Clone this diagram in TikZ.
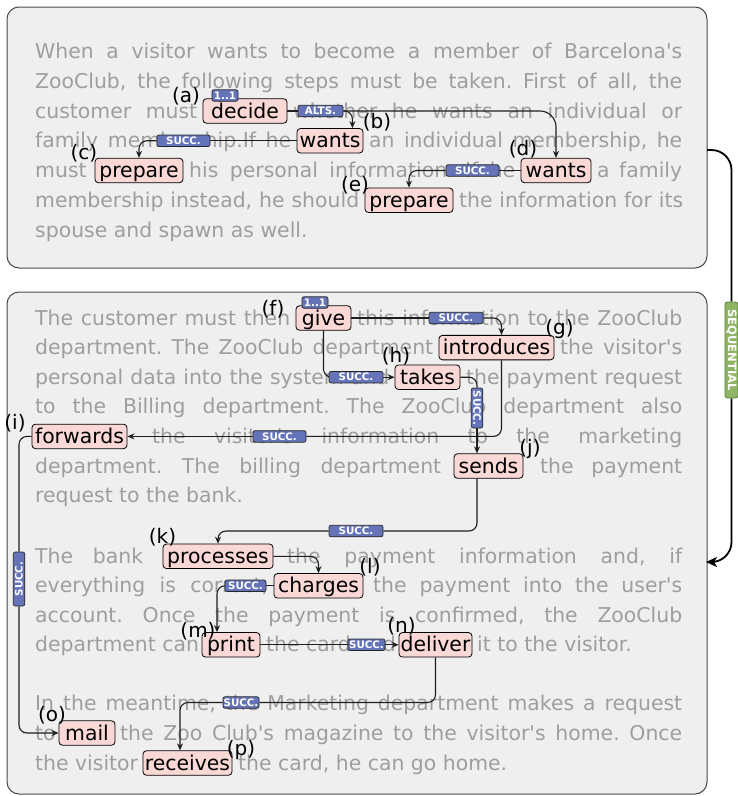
\documentclass[tikz,border=0pt]{standalone}
\usepackage{fontspec}
\setmainfont{DejaVu Sans}
\newfontfamily\dvs{DejaVu Sans}
\usetikzlibrary{arrows.meta,calc}
\pgfdeclarelayer{bgl}
\pgfdeclarelayer{edges}
\pgfsetlayers{bgl,edges,main}
\definecolor{panelfill}{HTML}{EFEFEF}
\definecolor{panelline}{HTML}{4A4A4A}
\definecolor{greytext}{HTML}{9E9E9E}
\definecolor{wordfill}{HTML}{F9D8D6}
\definecolor{tagfill}{HTML}{6573B8}
\definecolor{seqfill}{HTML}{8FB464}
\definecolor{seqline}{HTML}{5E7F3C}
\definecolor{edgecol}{HTML}{1E1E1E}
\newcommand{\justseg}[2]{\makebox[#1pt][s]{#2}}
\tikzset{
 panel/.style={draw=panelline, fill=panelfill, line width=1pt, rounded corners=12pt},
 txt/.style={inner sep=0pt, anchor=base west, text=greytext, font=\dvs\fontsize{20.4pt}{24pt}\selectfont},
 wordbox/.style={draw=black, fill=wordfill, line width=0.8pt, rounded corners=3.5pt, inner xsep=0pt, inner ysep=1.75pt, text height=17.5pt, text depth=3.5pt, anchor=base, font=\dvs\fontsize{20.4pt}{24pt}\selectfont},
 letter/.style={inner sep=0pt, font=\dvs\fontsize{20pt}{24pt}\selectfont},
 tag/.style={draw=black!85, fill=tagfill, line width=0.7pt, rounded corners=2pt, inner sep=0pt, minimum height=11.5pt, text=white, font=\dvs\fontsize{10.3pt}{12pt}\bfseries\selectfont},
 seqtag/.style={draw=seqline, fill=seqfill, line width=0.8pt, rounded corners=2.5pt, inner sep=0pt, minimum height=13pt, minimum width=96pt, text=white, font=\dvs\fontsize{11.5pt}{13pt}\bfseries\selectfont},
 conn/.style={draw=edgecol, line width=1.1pt, rounded corners=8pt},
 arr/.style={conn, -{Stealth[length=7pt,width=6pt]}},
 seqconn/.style={draw=black, line width=1.8pt, rounded corners=20pt},
}
\begin{document}
\frenchspacing
\begin{tikzpicture}[x=1pt,y=-1pt]
\useasboundingbox (0,0) rectangle (738,796);
\begin{pgfonlayer}{bgl}
\draw[panel] (7,7) rectangle (707,268);
\draw[panel] (7,292) rectangle (707,794);
% top paragraph
\node[txt] (t1) at (35,58.5) {\justseg{647}{When a visitor wants to become a member of Barcelona's}};
\node[txt] (t2) at (35,88.25) {\justseg{647}{ZooClub, the following steps must be taken. First of all, the}};
\node[txt] (t3a) at (35,118) {\justseg{162}{customer must}};
\node[txt] (t3b) at (293,118) {\justseg{389}{whether he wants an individual or}};
\node[txt] (t4a) at (35,147.75) {\justseg{256}{family membership.If he}};
\node[txt] (t4b) at (369,147.75) {\justseg{313}{an individual membership, he}};
\node[txt] (t5a) at (35,177.5) {must};
\node[txt] (t5b) at (189,177.5) {\justseg{326}{his personal information. If he}};
\node[txt] (t5c) at (597,177.5) {\justseg{85}{a family}};
\node[txt] (t6a) at (35,207.25) {\justseg{324}{membership instead, he should}};
\node[txt] (t6b) at (459,207.25) {\justseg{224}{the information for its}};
\node[txt] (t7) at (35,237) {spouse and spawn as well.};
% bottom paragraphs
\node[txt] (u1a) at (35,325) {\justseg{255}{The customer must then}};
\node[txt] (u1b) at (357,325) {\justseg{325}{this information to the ZooClub}};
\node[txt] (u2a) at (35,354.6) {\justseg{398}{department. The ZooClub department}};
\node[txt] (u2b) at (560,354.6) {\justseg{122}{the visitor's}};
\node[txt] (u3a) at (35,384.2) {\justseg{354}{personal data into the system and}};
\node[txt] (u3b) at (466,384.2) {\justseg{216}{the payment request}};
\node[txt] (u4) at (35,413.8) {\justseg{647}{to the Billing department. The ZooClub department also}};
\node[txt] (u5) at (152,443.4) {\justseg{530}{the visitor's information to the marketing}};
\node[txt] (u6a) at (35,473) {\justseg{406}{department. The billing department}};
\node[txt] (u6b) at (540,473) {\justseg{142}{the payment}};
\node[txt] (u7) at (35,502.6) {request to the bank.};
\node[txt] (v1a) at (35,563.3) {\justseg{108}{The bank}};
\node[txt] (v1b) at (287,563.3) {\justseg{395}{the payment information and, if}};
\node[txt] (v2a) at (35,592.8) {\justseg{233}{everything is correct,}};
\node[txt] (v2b) at (373,592.8) {\justseg{309}{the payment into the user's}};
\node[txt] (v3) at (35,622.3) {\justseg{647}{account. Once the payment is confirmed, the ZooClub}};
\node[txt] (v4a) at (35,651.8) {department can};
\node[txt] (v4b) at (266,651.8) {the card and};
\node[txt] (v4c) at (477,651.8) {it to the visitor.};
\node[txt] (w1) at (35,710) {\justseg{647}{In the meantime, the Marketing department makes a request}};
\node[txt] (w2a) at (35,740) {to};
\node[txt] (w2b) at (120,740) {\justseg{562}{the Zoo Club's magazine to the visitor's home. Once}};
\node[txt] (w3a) at (35,770) {the visitor};
\node[txt] (w3b) at (238,770) {the card, he can go home.};
\end{pgfonlayer}
% word boxes
\node[wordbox, minimum width=84pt] (decide) at (245,118) {decide};
\node[wordbox, minimum width=66pt] (wantsb) at (330,147.75) {wants};
\node[wordbox, minimum width=88pt] (prepc) at (139,177.5) {prepare};
\node[wordbox, minimum width=70pt] (wantsd) at (556,177.5) {wants};
\node[wordbox, minimum width=88pt] (prepe) at (409,207.25) {prepare};
\node[wordbox, minimum width=55pt] (give) at (323.5,325) {give};
\node[wordbox, minimum width=115pt] (intro) at (496.5,354.6) {introduces};
\node[wordbox, minimum width=65pt] (takes) at (427.5,384.2) {takes};
\node[wordbox, minimum width=95pt] (forwards) at (79.5,443.4) {forwards};
\node[wordbox, minimum width=69pt] (sends) at (488.5,473) {sends};
\node[wordbox, minimum width=110pt] (proc) at (218,563.3) {processes};
\node[wordbox, minimum width=89pt] (charges) at (318.5,592.8) {charges};
\node[wordbox, minimum width=58pt] (print) at (231,651.8) {print};
\node[wordbox, minimum width=73pt] (deliver) at (435.5,651.8) {deliver};
\node[wordbox, minimum width=56pt] (mail) at (87,740) {mail};
\node[wordbox, minimum width=89pt] (receives) at (187.5,770) {receives};
% letters
\node[letter] (la) at (186,96) {(a)};
\node[letter] (lb) at (377,122) {(b)};
\node[letter] (lc) at (84,153) {(c)};
\node[letter] (ld) at (523,149) {(d)};
\node[letter] (le) at (355,185) {(e)};
\node[letter] (lf) at (273,309) {(f)};
\node[letter] (lg) at (559.5,329) {(g)};
\node[letter] (lh) at (396,356) {(h)};
\node[letter] (li) at (15,423) {(i)};
\node[letter] (lj) at (530,449) {(j)};
\node[letter] (lk) at (162.5,537) {(k)};
\node[letter] (ll) at (370,567) {(l)};
\node[letter] (lm) at (198,631) {(m)};
\node[letter] (ln) at (401.5,626) {(n)};
\node[letter] (lo) at (52,715) {(o)};
\node[letter] (lp) at (241,750) {(p)};
% tags
\node[tag, minimum width=26pt] (tagA) at (225,95.5) {1..1};
\node[tag, minimum width=45pt] (alts) at (320.5,111) {ALTS.};
\node[tag, minimum width=53pt] (s1) at (183.5,140.75) {SUCC.};
\node[tag, minimum width=53pt] (s2) at (472.5,170.5) {SUCC.};
\node[tag, minimum width=26pt] (tagF) at (315,302.5) {1..1};
\node[tag, minimum width=54pt] (s3) at (456,318) {SUCC.};
\node[tag, minimum width=54pt] (s4) at (356,377.2) {SUCC.};
\node[tag, minimum width=40pt, rotate=-90] (s5) at (477,408) {SUCC.};
\node[tag, minimum width=53pt] (s6) at (279.5,436.4) {SUCC.};
\node[tag, minimum width=54pt, rotate=90] (s7) at (19,579) {SUCC.};
\node[tag, minimum width=54pt] (s8) at (356,531) {SUCC.};
\node[tag, minimum width=41pt] (s9) at (245.5,585.8) {SUCC.};
\node[tag, minimum width=37pt] (s10) at (366.5,644.8) {SUCC.};
\node[tag, minimum width=36pt] (s11) at (241,702.5) {SUCC.};
\node[seqtag, rotate=-90] (seq) at (731.5,350) {SEQUENTIAL};
\coordinate (seqa) at (707,150);
\coordinate (seqb) at (706,562);
% connectors
\begin{pgfonlayer}{edges}
\draw[conn] (decide.east) -- (alts.west);
\draw[arr] (alts.east) -| ($(wantsb.north east)+(-11,0)$);
\draw[arr, rounded corners=16pt] (alts.east) -| (wantsd.north);
\draw[conn] (wantsb.west) -- (s1.east);
\draw[arr] (s1.west) -| (prepc.north);
\draw[conn] (wantsd.west) -- (s2.east);
\draw[arr] (s2.west) -| (prepe.north);
\draw[seqconn] (seqa) -| (seq.west);
\draw[seqconn, -{Stealth[length=11pt,width=10pt,inset=3pt]}] (seq.east) |- (seqb);
\draw[conn] (give.east) -- (s3.west);
\draw[arr] (s3.east) -| ($(intro.north)+(5,0)$);
\draw[conn] (give.south) |- (s4.west);
\draw[arr] (s4.east) -- (takes.west);
\draw[conn] (takes.east) -| (s5.west);
\draw[arr] (s5.east) -- (s5.east |- sends.north);
\draw[conn] ($(intro.south)+(5,0)$) |- (s6.east);
\draw[arr] (s6.west) -- (forwards.east);
\draw[conn] (forwards.west) -| (s7.east);
\draw[arr] (s7.west) |- (mail.west);
\draw[conn] (s5.east |- sends.south) |- (s8.east);
\draw[arr] (s8.west) -| (proc.north);
\draw[arr] (proc.east) -| (charges.north);
\draw[conn] (charges.west) -- (s9.east);
\draw[arr] (s9.west) -| ($(print.north)+(-14,0)$);
\draw[conn] (print.east) -- (s10.west);
\draw[arr] (s10.east) -- (deliver.west);
\draw[conn] (deliver.south) |- (s11.east);
\draw[arr] (s11.west) -| ($(receives.north)+(-7.5,0)$);
\end{pgfonlayer}
\end{tikzpicture}
\end{document}
